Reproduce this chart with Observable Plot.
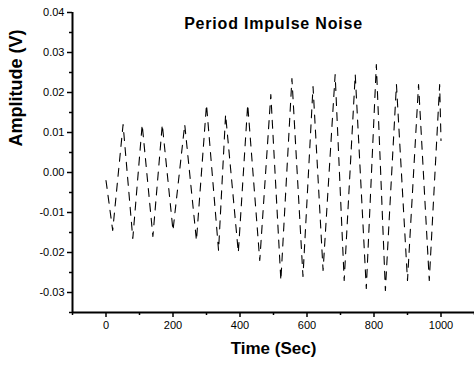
<!DOCTYPE html>
<html><head><meta charset="utf-8">
<script src="https://cdn.jsdelivr.net/npm/d3@7"></script>
<script src="https://cdn.jsdelivr.net/npm/@observablehq/plot@0.6"></script>
<style>body{margin:0;background:#fff} svg{display:block}</style>
</head><body><div id="chart"></div>
<script>
const title = "Period Impulse Noise";
const xLabel = "Time (Sec)";
const yLabel = "Amplitude (V)";
const time = [0, 20, 51, 80, 108, 140, 168, 200, 235, 270, 300, 336, 357, 395, 423, 459, 492, 522, 555, 588, 618, 648, 684, 711, 744, 777, 807, 834, 867, 900, 933, 965, 996, 1000];
const amplitude = [-0.002, -0.0145, 0.012, -0.0165, 0.012, -0.016, 0.012, -0.0145, 0.012, -0.017, 0.017, -0.0195, 0.0145, -0.02, 0.017, -0.022, 0.0195, -0.027, 0.0235, -0.026, 0.0215, -0.0245, 0.0245, -0.027, 0.0245, -0.029, 0.027, -0.0295, 0.022, -0.027, 0.022, -0.027, 0.022, 0.008];
const xTicks = [0, 200, 400, 600, 800, 1000];
const xMinorTicks = [-100, 100, 300, 500, 700, 900, 1100];
const yTicks = [-0.03, -0.02, -0.01, 0, 0.01, 0.02, 0.03, 0.04];
const yMinorTicks = [-0.035, -0.025, -0.015, -0.005, 0.005, 0.015, 0.025, 0.035];
const xDomain = [-100, 1100];
const yDomain = [-0.035, 0.04];

const data = time.map((t, i) => ({t, v: amplitude[i]}));
const font = "'Liberation Sans', Arial, sans-serif";

const plot = Plot.plot({
  width: 474, height: 368,
  marginLeft: 72, marginRight: 0, marginTop: 12, marginBottom: 56,
  style: {fontFamily: font, color: "#000", background: "#fff", overflow: "visible"},
  x: {domain: xDomain},
  y: {domain: yDomain},
  marks: [
    Plot.line(data, {x: "t", y: "v", stroke: "#000", strokeWidth: 1.1, strokeDasharray: "8,7"}),
    Plot.axisX({ticks: xMinorTicks, tickSize: 3, text: null, label: null, strokeWidth: 1.5}),
    Plot.axisX({ticks: xTicks, tickSize: 5, tickPadding: 4, tickFormat: d => String(d), label: null, fontSize: 11, strokeWidth: 1.5}),
    Plot.axisY({ticks: yMinorTicks, tickSize: 3, text: null, label: null, strokeWidth: 1.5}),
    Plot.axisY({ticks: yTicks, tickSize: 5, tickPadding: 3, tickFormat: d => d.toFixed(2), label: null, fontSize: 11, strokeWidth: 1.5}),
    Plot.ruleX([xDomain[0]], {stroke: "#000", strokeWidth: 2}),
    Plot.ruleY([yDomain[0]], {stroke: "#000", strokeWidth: 2}),
    Plot.text([title], {frameAnchor: "top", dy: 5, fontSize: 16, fontWeight: "bold", fill: "#000"}),
    Plot.text([xLabel], {frameAnchor: "bottom", dy: 41, fontSize: 17, fontWeight: "bold", fill: "#000"}),
    Plot.text([yLabel], {frameAnchor: "left", rotate: -90, dx: -56, dy: -16, fontSize: 18, fontWeight: "bold", fill: "#000"})
  ]
});
document.getElementById("chart").appendChild(plot);
d3.select(plot).selectAll("text").filter(function() { return this.textContent === title; }).attr("letter-spacing", "0.8");
</script></body></html>
